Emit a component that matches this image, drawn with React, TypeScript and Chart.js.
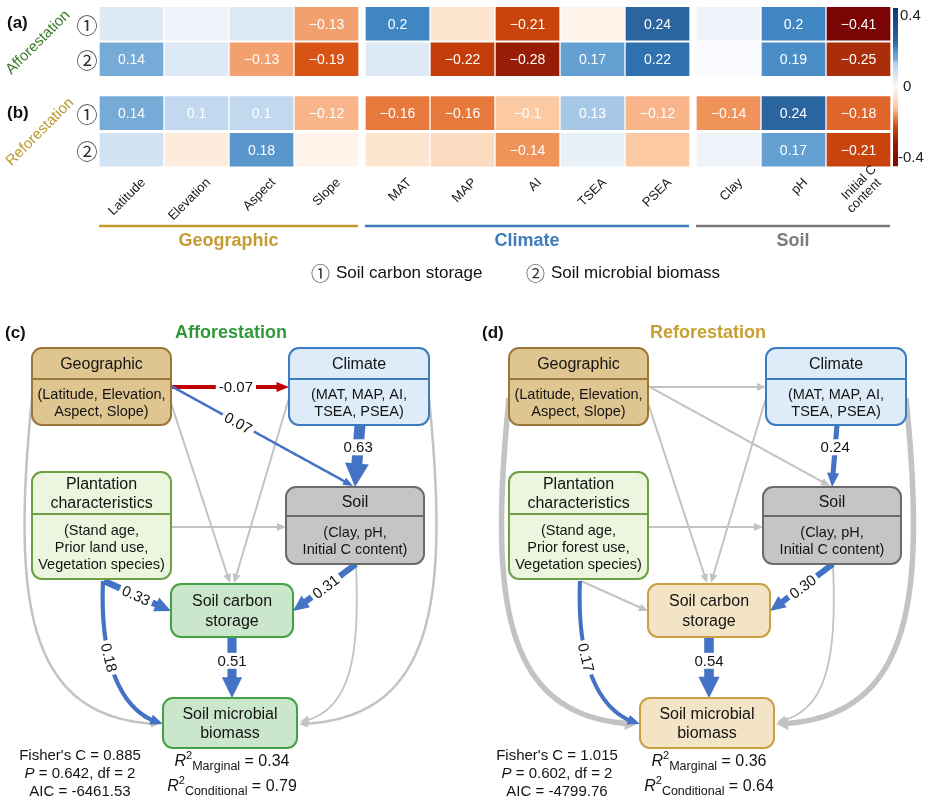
import React, { useEffect, useRef } from "react";
import { Chart, registerables } from "chart.js";

Chart.register(...registerables);

const SANS = "'Liberation Sans', Arial, Helvetica, sans-serif";
const CJK = "'Noto Sans CJK SC', 'Noto Sans CJK JP', 'DejaVu Sans', sans-serif";

// ---------------- (a)/(b) heat map data ----------------
const variables = ["Latitude", "Elevation", "Aspect", "Slope", "MAT", "MAP", "AI", "TSEA", "PSEA", "Clay", "pH", "Initial C\ncontent"];
const variableGroup = [0, 0, 0, 0, 1, 1, 1, 1, 1, 2, 2, 2];
const groupNames = ["Geographic", "Climate", "Soil"];
const responseKeys = ["①", "②", "①", "②"];
const responseNames = ["Soil carbon storage", "Soil microbial biomass"];

const afforestCarbon = [0.05, 0.02, 0.05, -0.13, 0.2, -0.04, -0.21, -0.01, 0.24, 0.02, 0.2, -0.41];
const afforestMicrobial = [0.14, 0.05, -0.13, -0.19, 0.05, -0.22, -0.28, 0.17, 0.22, 0.0, 0.19, -0.25];
const reforestCarbon = [0.14, 0.1, 0.1, -0.12, -0.16, -0.16, -0.1, 0.13, -0.12, -0.14, 0.24, -0.18];
const reforestMicrobial = [0.07, -0.03, 0.18, -0.01, -0.04, -0.06, -0.14, 0.03, -0.1, 0.02, 0.17, -0.21];

const afforestCarbonLabelled = [0, 0, 0, 1, 1, 0, 1, 0, 1, 0, 1, 1];
const afforestMicrobialLabelled = [1, 0, 1, 1, 0, 1, 1, 1, 1, 0, 1, 1];
const reforestCarbonLabelled = [1, 1, 1, 1, 1, 1, 1, 1, 1, 1, 1, 1];
const reforestMicrobialLabelled = [0, 0, 1, 0, 0, 0, 1, 0, 0, 0, 1, 1];

const colorbarTicks = [0.4, 0, -0.4];
const colorbarTickText = ["0.4", "0", "-0.4"];

// ---------------- (c)/(d) path model data ----------------
const pathNames = [
  "Geographic→Climate", "Geographic→Soil", "Climate→Soil", "Geographic→SCS", "Climate→SCS",
  "Plantation→Soil", "Plantation→SCS", "Plantation→SMB", "Soil→SCS", "SCS→SMB",
  "Geographic→SMB", "Climate→SMB", "Soil→SMB",
];
// null = non-significant path (grey)
const afforestPathCoef = [-0.07, 0.07, 0.63, null, null, null, 0.33, 0.18, 0.31, 0.51, null, null, null];
const reforestPathCoef = [null, null, 0.24, null, null, null, null, 0.17, 0.3, 0.54, null, null, null];

const afforestFit = [0.885, 0.642, 2, -6461.53]; // Fisher's C, P, df, AIC
const reforestFit = [1.015, 0.602, 2, -4799.76];
const r2Names = ["Marginal", "Conditional"];
const afforestR2 = [0.34, 0.79];
const reforestR2 = [0.36, 0.64];

// ---------------- colours ----------------
const POS_STOPS: [number, string][] = [
  [0, "#f8fafd"], [0.02, "#eef4fa"], [0.05, "#dde9f5"], [0.07, "#d2e3f3"], [0.1, "#c2d8ee"],
  [0.13, "#a6c7e5"], [0.14, "#76aad7"], [0.17, "#64a0d2"], [0.18, "#5896cc"], [0.19, "#4b8dc6"],
  [0.2, "#3f86c3"], [0.22, "#2f70ae"], [0.24, "#2b65a0"], [0.4, "#0d3a6e"],
];
const NEG_STOPS: [number, string][] = [
  [0, "#fdf8f4"], [0.01, "#fff3ea"], [0.03, "#fdebdc"], [0.04, "#fde5d0"], [0.06, "#fcdcc0"],
  [0.1, "#fbc9a2"], [0.12, "#f8b58a"], [0.13, "#f2a06d"], [0.14, "#ef935a"], [0.16, "#e8793c"],
  [0.18, "#df652a"], [0.19, "#d75415"], [0.21, "#c9440c"], [0.22, "#c23d0a"], [0.25, "#aa2e09"],
  [0.28, "#991d06"], [0.41, "#7b0404"],
];

function hex(c: string) {
  return [1, 3, 5].map((k) => parseInt(c.slice(k, k + 2), 16));
}
function lerpColor(a: string, b: string, t: number) {
  const A = hex(a), B = hex(b);
  const m = A.map((v, i) => Math.round(v + (B[i] - v) * t));
  return `rgb(${m[0]},${m[1]},${m[2]})`;
}
function colorFor(v: number) {
  const stops = v >= 0 ? POS_STOPS : NEG_STOPS;
  const a = Math.abs(v);
  for (let i = 1; i < stops.length; i++) {
    if (a <= stops[i][0]) {
      const [v0, c0] = stops[i - 1];
      const [v1, c1] = stops[i];
      return lerpColor(c0, c1, (a - v0) / (v1 - v0));
    }
  }
  return stops[stops.length - 1][1];
}

// ---------------- heat map ----------------
const heatRows = [
  { values: afforestCarbon, labelled: afforestCarbonLabelled },
  { values: afforestMicrobial, labelled: afforestMicrobialLabelled },
  { values: reforestCarbon, labelled: reforestCarbonLabelled },
  { values: reforestMicrobial, labelled: reforestMicrobialLabelled },
];
const rowY = [0, 1, 2.52, 3.55];
const colX = (i: number) => i + 0.092 * variableGroup[i];
const groupColors = ["#c49b2f", "#3c7cb8", "#7b7b7b"];

const heatPlugin = {
  id: "heatDecor",
  afterDatasetsDraw(chart: any) {
    const ctx: CanvasRenderingContext2D = chart.ctx;
    const xs = chart.scales.x, ys = chart.scales.y;
    ctx.save();
    // values in cells
    ctx.textAlign = "center";
    ctx.textBaseline = "middle";
    ctx.font = `14px ${SANS}`;
    ctx.fillStyle = "#ffffff";
    heatRows.forEach((row, r) => {
      chart.getDatasetMeta(r).data.forEach((el: any, i: number) => {
        if (!row.labelled[i]) return;
        const v = row.values[i];
        const txt = (v < 0 ? "\u2212" : "") + String(Math.abs(v));
        ctx.fillText(txt, el.x, (el.y + el.base) / 2 + 1);
      });
    });
    // response keys
    ctx.font = `21px ${CJK}`;
    ctx.fillStyle = "#333";
    rowY.forEach((ry, r) => ctx.fillText(responseKeys[r], xs.left - 12, ys.getPixelForValue(ry) + 1));
    // panel letters
    ctx.font = `bold 17px ${SANS}`;
    ctx.fillStyle = "#111";
    ctx.textAlign = "left";
    ctx.fillText("(a)", 7, ys.getPixelForValue(rowY[0]));
    ctx.fillText("(b)", 7, ys.getPixelForValue(rowY[2]));
    // rotated scenario names
    const rot = (txt: string, x: number, y: number, color: string) => {
      ctx.save();
      ctx.translate(x, y);
      ctx.rotate(-Math.PI / 4);
      ctx.font = `15px ${SANS}`;
      ctx.fillStyle = color;
      ctx.textAlign = "center";
      ctx.fillText(txt, 0, 0);
      ctx.restore();
    };
    rot("Afforestation", 38, ys.getPixelForValue(0.5) + 1, "#3b7a2c");
    rot("Reforestation", 40, ys.getPixelForValue(3.02) + 1, "#b8992f");
    // colour bar
    const cbTop = ys.top + 2, cbBot = ys.bottom - 2, cbX = xs.right + 2;
    for (let y = cbTop; y < cbBot; y++) {
      const v = 0.4 - (0.8 * (y - cbTop)) / (cbBot - cbTop);
      ctx.fillStyle = colorFor(v);
      ctx.fillRect(cbX, y, 5, 1.2);
    }
    ctx.font = `15px ${SANS}`;
    ctx.fillStyle = "#222";
    ctx.textAlign = "left";
    colorbarTicks.forEach((v, k) => {
      const y = cbTop + ((0.4 - v) / 0.8) * (cbBot - cbTop);
      const yy = Math.min(Math.max(y, cbTop + 8), cbBot - 8);
      ctx.fillText(colorbarTickText[k], cbX + (v === 0 ? 10 : v > 0 ? 7 : 5), yy);
    });
    // variable labels
    ctx.font = `13px ${SANS}`;
    ctx.fillStyle = "#1a1a1a";
    ctx.textAlign = "right";
    const baseY = ys.bottom + 13;
    variables.forEach((name, i) => {
      const cx = xs.getPixelForValue(colX(i));
      const lines = name.split("\n");
      ctx.save();
      ctx.translate(cx + 12, baseY);
      ctx.rotate(-Math.PI / 4);
      lines.forEach((ln, k) => {
        const off = lines.length > 1 ? (k === 0 ? 12 : 6) : 0;
        ctx.fillText(ln, off, (k - (lines.length - 1) / 2) * 13);
      });
      ctx.restore();
    });
    // group bars and names
    const lineY = ys.bottom + 58.5;
    groupNames.forEach((g, gi) => {
      const idx = variableGroup.map((v, i) => (v === gi ? i : -1)).filter((i) => i >= 0);
      const x0 = xs.getPixelForValue(colX(idx[0])) - 32.5;
      const x1 = xs.getPixelForValue(colX(idx[idx.length - 1])) + 31.5;
      ctx.strokeStyle = groupColors[gi];
      ctx.lineWidth = 2.5;
      ctx.beginPath();
      ctx.moveTo(x0, lineY);
      ctx.lineTo(x1, lineY);
      ctx.stroke();
      ctx.font = `bold 18px ${SANS}`;
      ctx.fillStyle = groupColors[gi];
      ctx.textAlign = "center";
      ctx.fillText(g, (x0 + x1) / 2, lineY + 15);
    });
    // legend of responses
    const legY = ys.bottom + 106;
    const legX = [311, 526];
    responseNames.forEach((nm, k) => {
      ctx.textAlign = "left";
      ctx.fillStyle = "#333";
      ctx.font = `19px ${CJK}`;
      ctx.fillText(responseKeys[k], legX[k], legY);
      ctx.fillStyle = "#111";
      ctx.font = `17px ${SANS}`;
      ctx.fillText(nm, legX[k] + 25, legY);
    });
    ctx.restore();
  },
};

function makeHeatmap(canvas: HTMLCanvasElement) {
  return new Chart(canvas, {
    type: "bar",
    data: {
      datasets: heatRows.map((row, r) => ({
        label: `row${r}`,
        data: row.values.map((v, i) => ({ x: colX(i), y: [rowY[r] - 0.465, rowY[r] + 0.465] })),
        backgroundColor: row.values.map(colorFor),
        borderWidth: 0,
        barThickness: 63,
        grouped: false,
      })),
    } as any,
    options: {
      responsive: false,
      animation: false,
      layout: { padding: { left: 99, right: 36, top: 6, bottom: 132.5 }, autoPadding: false } as any,
      plugins: { legend: { display: false }, tooltip: { enabled: false } },
      scales: {
        x: { type: "linear", min: -0.5, max: 11.684, display: false, offset: false },
        y: { type: "linear", min: -0.5, max: 4.05, reverse: true, display: false },
      },
    } as any,
    plugins: [heatPlugin],
  });
}

// ---------------- path diagrams ----------------
type Pt = [number, number];
type Geom = { pts?: Pt[]; bez?: Pt[]; t?: number; rot?: boolean };
const pathGeometry: Geom[] = [
  { pts: [[171, 387], [289, 387]], t: 0.55, rot: false },
  { pts: [[171, 386], [353, 486]], t: 0.37, rot: true },
  { pts: [[360, 425], [355, 487]], t: 0.36, rot: false },
  { pts: [[170, 400], [230, 583]] },
  { pts: [[289, 398], [234, 583]] },
  { pts: [[171, 527], [286, 527]] },
  { pts: [[104, 581], [171, 611]], t: 0.48, rot: true },
  { bez: [[103, 581], [100, 650], [115, 712], [163, 724]], t: 0.4, rot: true },
  { pts: [[356, 564], [293, 611]], t: 0.48, rot: true },
  { pts: [[232, 637], [232, 698]], t: 0.39, rot: false },
  { bez: [[32, 398], [12, 600], [25, 720], [160, 724]] },
  { bez: [[429, 398], [449, 600], [436, 720], [299, 724]] },
  { bez: [[356, 564], [360, 660], [350, 712], [300, 722]] },
];

type Box = { x0: number; y0: number; x1: number; y1: number; div?: number; head: string[]; body: string[] };

const diagramSpecs = [
  {
    panel: "(c)", title: "Afforestation", titleColor: "#2f9a3a",
    coef: afforestPathCoef, fit: afforestFit, r2: afforestR2,
    plantBody: ["(Stand age,", "Prior land use,", "Vegetation species)"],
    respFill: "#cbe7cb", respStroke: "#46a046",
    grayWidth: [2, 2, 2, 2, 2, 2, 2, 2, 2, 2, 2.5, 2.5, 1.8],
    width: 463, left: 0,
  },
  {
    panel: "(d)", title: "Reforestation", titleColor: "#c7a032",
    coef: reforestPathCoef, fit: reforestFit, r2: reforestR2,
    plantBody: ["(Stand age,", "Prior forest use,", "Vegetation species)"],
    respFill: "#f3e4c5", respStroke: "#c9a043",
    grayWidth: [2, 2, 2, 2, 2, 2, 2, 2, 2, 2, 5.5, 5.5, 1.8],
    width: 450, left: 477,
  },
];

function sample(g: Geom): Pt[] {
  const out: Pt[] = [];
  const N = 60;
  if (g.bez) {
    const [a, b, c, d] = g.bez;
    for (let k = 0; k <= N; k++) {
      const t = k / N, u = 1 - t;
      out.push([
        u * u * u * a[0] + 3 * u * u * t * b[0] + 3 * u * t * t * c[0] + t * t * t * d[0],
        u * u * u * a[1] + 3 * u * u * t * b[1] + 3 * u * t * t * c[1] + t * t * t * d[1],
      ]);
    }
  } else {
    const [a, b] = g.pts!;
    for (let k = 0; k <= N; k++) {
      const t = k / N;
      out.push([a[0] + (b[0] - a[0]) * t, a[1] + (b[1] - a[1]) * t]);
    }
  }
  return out;
}

function pointAtLength(pts: Pt[], cum: number[], L: number): Pt {
  for (let i = 1; i < pts.length; i++) {
    if (cum[i] >= L) {
      const f = (L - cum[i - 1]) / Math.max(1e-9, cum[i] - cum[i - 1]);
      return [pts[i - 1][0] + (pts[i][0] - pts[i - 1][0]) * f, pts[i - 1][1] + (pts[i][1] - pts[i - 1][1]) * f];
    }
  }
  return pts[pts.length - 1];
}

function drawArrow(ctx: CanvasRenderingContext2D, pts: Pt[], w: number, color: string, headLen: number, headW: number) {
  const cum = [0];
  for (let i = 1; i < pts.length; i++) cum.push(cum[i - 1] + Math.hypot(pts[i][0] - pts[i - 1][0], pts[i][1] - pts[i - 1][1]));
  const total = cum[cum.length - 1];
  const cut = total - headLen * 0.8;
  ctx.beginPath();
  ctx.moveTo(pts[0][0], pts[0][1]);
  for (let i = 1; i < pts.length && cum[i] < cut; i++) ctx.lineTo(pts[i][0], pts[i][1]);
  const c = pointAtLength(pts, cum, cut);
  ctx.lineTo(c[0], c[1]);
  ctx.lineWidth = w;
  ctx.strokeStyle = color;
  ctx.lineCap = "butt";
  ctx.lineJoin = "round";
  ctx.stroke();
  const tip = pts[pts.length - 1];
  const base = pointAtLength(pts, cum, total - headLen);
  let ux = tip[0] - base[0], uy = tip[1] - base[1];
  const n = Math.hypot(ux, uy) || 1;
  ux /= n; uy /= n;
  const bx = tip[0] - ux * headLen, by = tip[1] - uy * headLen;
  ctx.beginPath();
  ctx.moveTo(tip[0], tip[1]);
  ctx.lineTo(bx - uy * headW / 2, by + ux * headW / 2);
  ctx.lineTo(bx + uy * headW / 2, by - ux * headW / 2);
  ctx.closePath();
  ctx.fillStyle = color;
  ctx.fill();
}

function roundRect(ctx: CanvasRenderingContext2D, x0: number, y0: number, x1: number, y1: number, r: number) {
  ctx.beginPath();
  ctx.moveTo(x0 + r, y0);
  ctx.arcTo(x1, y0, x1, y1, r);
  ctx.arcTo(x1, y1, x0, y1, r);
  ctx.arcTo(x0, y1, x0, y0, r);
  ctx.arcTo(x0, y0, x1, y0, r);
  ctx.closePath();
}

type Part = { t: string; f: string; dy?: number };
function drawParts(ctx: CanvasRenderingContext2D, parts: Part[], cx: number, y: number) {
  let total = 0;
  parts.forEach((p) => { ctx.font = p.f; total += ctx.measureText(p.t).width; });
  let x = cx - total / 2;
  ctx.textAlign = "left";
  parts.forEach((p) => {
    ctx.font = p.f;
    ctx.fillText(p.t, x, y + (p.dy || 0));
    x += ctx.measureText(p.t).width;
  });
}

function makeDiagramPlugin(spec: any) {
  return {
    id: "pathDiagram",
    afterDraw(chart: any) {
      const ctx: CanvasRenderingContext2D = chart.ctx;
      const xs = chart.scales.x, ys = chart.scales.y;
      const P = (p: Pt): Pt => [xs.getPixelForValue(p[0]), ys.getPixelForValue(p[1])];
      ctx.save();

      const boxes: { b: Box; fill: string; stroke: string }[] = [
        { b: { x0: 32, y0: 348, x1: 171, y1: 425, div: 379, head: ["Geographic"], body: ["(Latitude, Elevation,", "Aspect, Slope)"] }, fill: "#dfc690", stroke: "#9c7638" },
        { b: { x0: 289, y0: 348, x1: 429, y1: 425, div: 379, head: ["Climate"], body: ["(MAT, MAP, AI,", "TSEA, PSEA)"] }, fill: "#deebf8", stroke: "#3b7cc0" },
        { b: { x0: 32, y0: 472, x1: 171, y1: 579, div: 514, head: ["Plantation", "characteristics"], body: spec.plantBody }, fill: "#ecf5dd", stroke: "#6f9f45" },
        { b: { x0: 286, y0: 487, x1: 424, y1: 564, div: 516, head: ["Soil"], body: ["(Clay, pH,", "Initial C content)"] }, fill: "#c5c5c5", stroke: "#6b6b6b" },
        { b: { x0: 171, y0: 584, x1: 293, y1: 637, head: ["Soil carbon", "storage"], body: [] }, fill: spec.respFill, stroke: spec.respStroke },
        { b: { x0: 163, y0: 698, x1: 297, y1: 748, head: ["Soil microbial", "biomass"], body: [] }, fill: spec.respFill, stroke: spec.respStroke },
      ];

      // edges (grey first)
      const order = pathGeometry.map((_, i) => i).sort((a, b) => (spec.coef[a] === null ? 0 : 1) - (spec.coef[b] === null ? 0 : 1));
      const sampled = pathGeometry.map((g) => sample(g).map(P));
      order.forEach((i) => {
        const c = spec.coef[i];
        if (c === null) {
          const w = spec.grayWidth[i];
          drawArrow(ctx, sampled[i], w, "#c3c3c3", Math.max(9, w * 2.2), Math.max(8, w * 2.4));
        } else {
          const w = 1.5 + 15 * Math.abs(c) + (c < 0 ? 1.5 : 0);
          const col = c < 0 ? "#c00000" : "#4472c4";
          drawArrow(ctx, sampled[i], w, col, Math.max(9, 1.6 * w + 6), Math.max(8, 2 * w + 2));
        }
      });

      // boxes
      boxes.forEach(({ b, fill, stroke }) => {
        const [x0, y0] = P([b.x0, b.y0]);
        const [x1, y1] = P([b.x1, b.y1]);
        roundRect(ctx, x0, y0, x1, y1, 10);
        ctx.fillStyle = fill;
        ctx.fill();
        ctx.lineWidth = 2;
        ctx.strokeStyle = stroke;
        ctx.stroke();
        ctx.fillStyle = "#141414";
        ctx.textAlign = "center";
        ctx.textBaseline = "middle";
        const cx = (x0 + x1) / 2;
        if (b.div !== undefined) {
          const dy = ys.getPixelForValue(b.div);
          ctx.beginPath();
          ctx.moveTo(x0, dy);
          ctx.lineTo(x1, dy);
          ctx.stroke();
          ctx.font = `16px ${SANS}`;
          const hc = (y0 + dy) / 2 + 1;
          b.head.forEach((t, k) => ctx.fillText(t, cx, hc + (k - (b.head.length - 1) / 2) * 18.5));
          ctx.font = `14.5px ${SANS}`;
          const bc = (dy + y1) / 2 + 1;
          b.body.forEach((t, k) => ctx.fillText(t, cx, bc + (k - (b.body.length - 1) / 2) * 17));
        } else {
          ctx.font = `16px ${SANS}`;
          const hc = (y0 + y1) / 2 + 1;
          b.head.forEach((t, k) => ctx.fillText(t, cx, hc + (k - (b.head.length - 1) / 2) * 19.5));
        }
      });

      // coefficient labels
      pathGeometry.forEach((g, i) => {
        const c = spec.coef[i];
        if (c === null || g.t === undefined) return;
        const pts = sampled[i];
        const fi = g.t * (pts.length - 1);
        const k = Math.min(pts.length - 2, Math.floor(fi));
        const f = fi - k;
        const x = pts[k][0] + (pts[k + 1][0] - pts[k][0]) * f;
        const y = pts[k][1] + (pts[k + 1][1] - pts[k][1]) * f;
        let ang = g.rot ? Math.atan2(pts[k + 1][1] - pts[k][1], pts[k + 1][0] - pts[k][0]) : 0;
        if (ang > Math.PI / 2) ang -= Math.PI;
        if (ang < -Math.PI / 2) ang += Math.PI;
        const txt = c.toFixed(2);
        ctx.save();
        ctx.translate(x, y);
        ctx.rotate(ang);
        ctx.font = `15px ${SANS}`;
        const tw = ctx.measureText(txt).width;
        ctx.fillStyle = "#ffffff";
        ctx.fillRect(-tw / 2 - 3, -8, tw + 6, 16);
        ctx.fillStyle = "#141414";
        ctx.textAlign = "center";
        ctx.textBaseline = "middle";
        ctx.fillText(txt, 0, 1);
        ctx.restore();
      });

      // panel title
      ctx.textBaseline = "middle";
      ctx.fillStyle = "#111";
      ctx.font = `bold 17px ${SANS}`;
      ctx.textAlign = "left";
      const [px, py] = P([5, 333]);
      ctx.fillText(spec.panel, px, py);
      ctx.font = `bold 18px ${SANS}`;
      ctx.fillStyle = spec.titleColor;
      ctx.textAlign = "center";
      const [tx, ty] = P([231, 333]);
      ctx.fillText(spec.title, tx, ty);

      // fit statistics
      ctx.fillStyle = "#141414";
      const f = spec.fit;
      const [fx] = P([80, 0]);
      drawParts(ctx, [{ t: `Fisher's C = ${f[0].toFixed(3)}`, f: `15px ${SANS}` }], fx, ys.getPixelForValue(756));
      drawParts(ctx, [{ t: "P", f: `italic 15px ${SANS}` }, { t: ` = ${f[1].toFixed(3)}, df = ${f[2]}`, f: `15px ${SANS}` }], fx, ys.getPixelForValue(774));
      drawParts(ctx, [{ t: `AIC = ${f[3].toFixed(2)}`, f: `15px ${SANS}` }], fx, ys.getPixelForValue(792));
      const [rx] = P([232, 0]);
      [762, 787].forEach((yy, k) => {
        drawParts(ctx, [
          { t: "R", f: `italic 16px ${SANS}` },
          { t: "2", f: `11px ${SANS}`, dy: -6 },
          { t: r2Names[k], f: `12.5px ${SANS}`, dy: 5 },
          { t: ` = ${spec.r2[k].toFixed(2)}`, f: `16px ${SANS}` },
        ], rx, ys.getPixelForValue(yy));
      });
      ctx.restore();
    },
  };
}

function makeDiagram(canvas: HTMLCanvasElement, spec: any) {
  return new Chart(canvas, {
    type: "scatter",
    data: { datasets: [{ label: pathNames.join(", "), data: [] }] },
    options: {
      responsive: false,
      animation: false,
      layout: { padding: 0, autoPadding: false } as any,
      plugins: { legend: { display: false }, tooltip: { enabled: false } },
      scales: {
        x: { type: "linear", min: 0, max: spec.width, display: false },
        y: { type: "linear", min: 300, max: 800, reverse: true, display: false },
      },
    } as any,
    plugins: [makeDiagramPlugin(spec)],
  });
}

export default function App() {
  const heatRef = useRef<HTMLCanvasElement>(null);
  const cRef = useRef<HTMLCanvasElement>(null);
  const dRef = useRef<HTMLCanvasElement>(null);
  useEffect(() => {
    const charts = [
      makeHeatmap(heatRef.current!),
      makeDiagram(cRef.current!, diagramSpecs[0]),
      makeDiagram(dRef.current!, diagramSpecs[1]),
    ];
    return () => charts.forEach((c) => c.destroy());
  }, []);
  return (
    <div style={{ position: "absolute", left: 0, top: 0, width: 927, height: 800, background: "#ffffff" }}>
      <canvas ref={heatRef} width={927} height={300} style={{ position: "absolute", left: 0, top: 0 }} />
      <canvas ref={cRef} width={diagramSpecs[0].width} height={500} style={{ position: "absolute", left: diagramSpecs[0].left, top: 300 }} />
      <canvas ref={dRef} width={diagramSpecs[1].width} height={500} style={{ position: "absolute", left: diagramSpecs[1].left, top: 300 }} />
    </div>
  );
}
